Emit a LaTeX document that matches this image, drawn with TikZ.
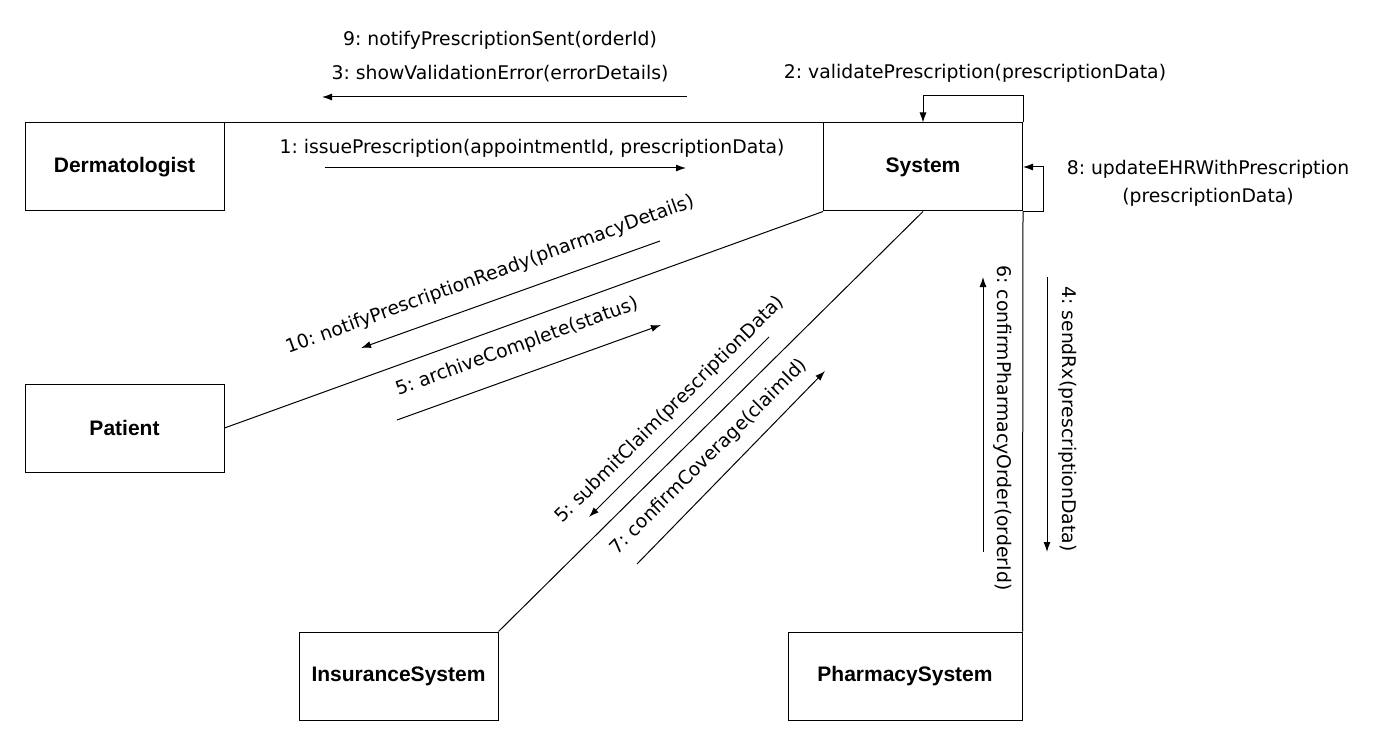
\documentclass[tikz,border=0pt]{standalone}
\usepackage{fontspec}
\setmainfont{DejaVu Sans}
\newfontfamily\boxfont{Liberation Sans}
\usetikzlibrary{arrows.meta,calc}
\frenchspacing
\tikzset{
  >=Latex,
  actor/.style={rectangle, draw=black, line width=1pt, minimum width=199pt,
                minimum height=88pt, inner sep=0pt,
                font=\boxfont\bfseries\fontsize{21}{25}\selectfont},
  link/.style={draw, line width=1pt},
  msg/.style={draw, line width=1pt, -{Latex[length=10pt,width=7pt]}},
  lbl/.style={inner sep=0pt, align=center, font=\fontsize{18.8}{28}\selectfont}
}

\begin{document}
\begin{tikzpicture}[x=1pt,y=-1pt]
\useasboundingbox (0,0) rectangle (1384,746);
% objects
\node[actor] (derm) at (124.5,167) {Dermatologist};
\node[actor] (sys) at (923,167) {System};
\node[actor] (pat) at (124.5,428) {Patient};
\node[actor] (ins) at (398.5,676) {InsuranceSystem};
\node[actor, minimum width=234pt] (pha) at (905,676) {PharmacySystem};
% links
\draw[link] (derm.north east) -- (sys.north west);
\draw[link] (pat.east) -- (sys.south west);
\draw[link] (ins.north east) -- (sys.south);
\draw[link] (sys.south east) -- (pha.north east);
% self messages
\draw[msg] (sys.north east) -- ++(0,-27) -| (sys.north);
\draw[msg] (sys.south east) -- ++(20,0) |- (sys.east);
\node[lbl] (l2) at (975,73) {2: validatePrescription(prescriptionData)};
\node[lbl] (l8) at (1208,183) {8: updateEHRWithPrescription\\(prescriptionData)};
% Dermatologist <-> System
\coordinate (m1s) at (325,168);
\coordinate (m1e) at (686,168);
\draw[msg] (m1s) -- (m1e);
\node[lbl] (l1) at (532,148) {1: issuePrescription(appointmentId, prescriptionData)};
\coordinate (m3s) at (687,97);
\coordinate (m3e) at (322,97);
\draw[msg] (m3s) -- (m3e);
\node[lbl] (l9) at (500,40) {9: notifyPrescriptionSent(orderId)};
\node[lbl] (l3) at (500,74) {3: showValidationError(errorDetails)};
% Patient <-> System
\coordinate (m10s) at (660,241);
\coordinate (m10e) at (361,348);
\draw[msg] (m10s) -- (m10e);
\node[lbl, rotate=19.9] (l10) at (490,275) {10: notifyPrescriptionReady(pharmacyDetails)};
\coordinate (m5as) at (397,420);
\coordinate (m5ae) at (661,325);
\draw[msg] (m5as) -- (m5ae);
\node[lbl, rotate=19.9] (l5a) at (517,347) {5: archiveComplete(status)};
% InsuranceSystem <-> System
\coordinate (m5ss) at (769,337);
\coordinate (m5se) at (589,517);
\draw[msg] (m5ss) -- (m5se);
\node[lbl, rotate=44.7] (l5s) at (670,410) {5: submitClaim(prescriptionData)};
\coordinate (m7s) at (637,564);
\coordinate (m7e) at (825,371);
\draw[msg] (m7s) -- (m7e);
\node[lbl, rotate=44.7] (l7) at (709,457) {7: confirmCoverage(claimId)};
% PharmacySystem <-> System
\coordinate (m6s) at (983,552);
\coordinate (m6e) at (983,277);
\draw[msg] (m6s) -- (m6e);
\node[lbl, rotate=-90] (l6) at (1003,428) {6: confirmPharmacyOrder(orderId)};
\coordinate (m4s) at (1047,277);
\coordinate (m4e) at (1047,552);
\draw[msg] (m4s) -- (m4e);
\node[lbl, rotate=-90] (l4) at (1068,419) {4: sendRx(prescriptionData)};
\end{tikzpicture}
\end{document}
